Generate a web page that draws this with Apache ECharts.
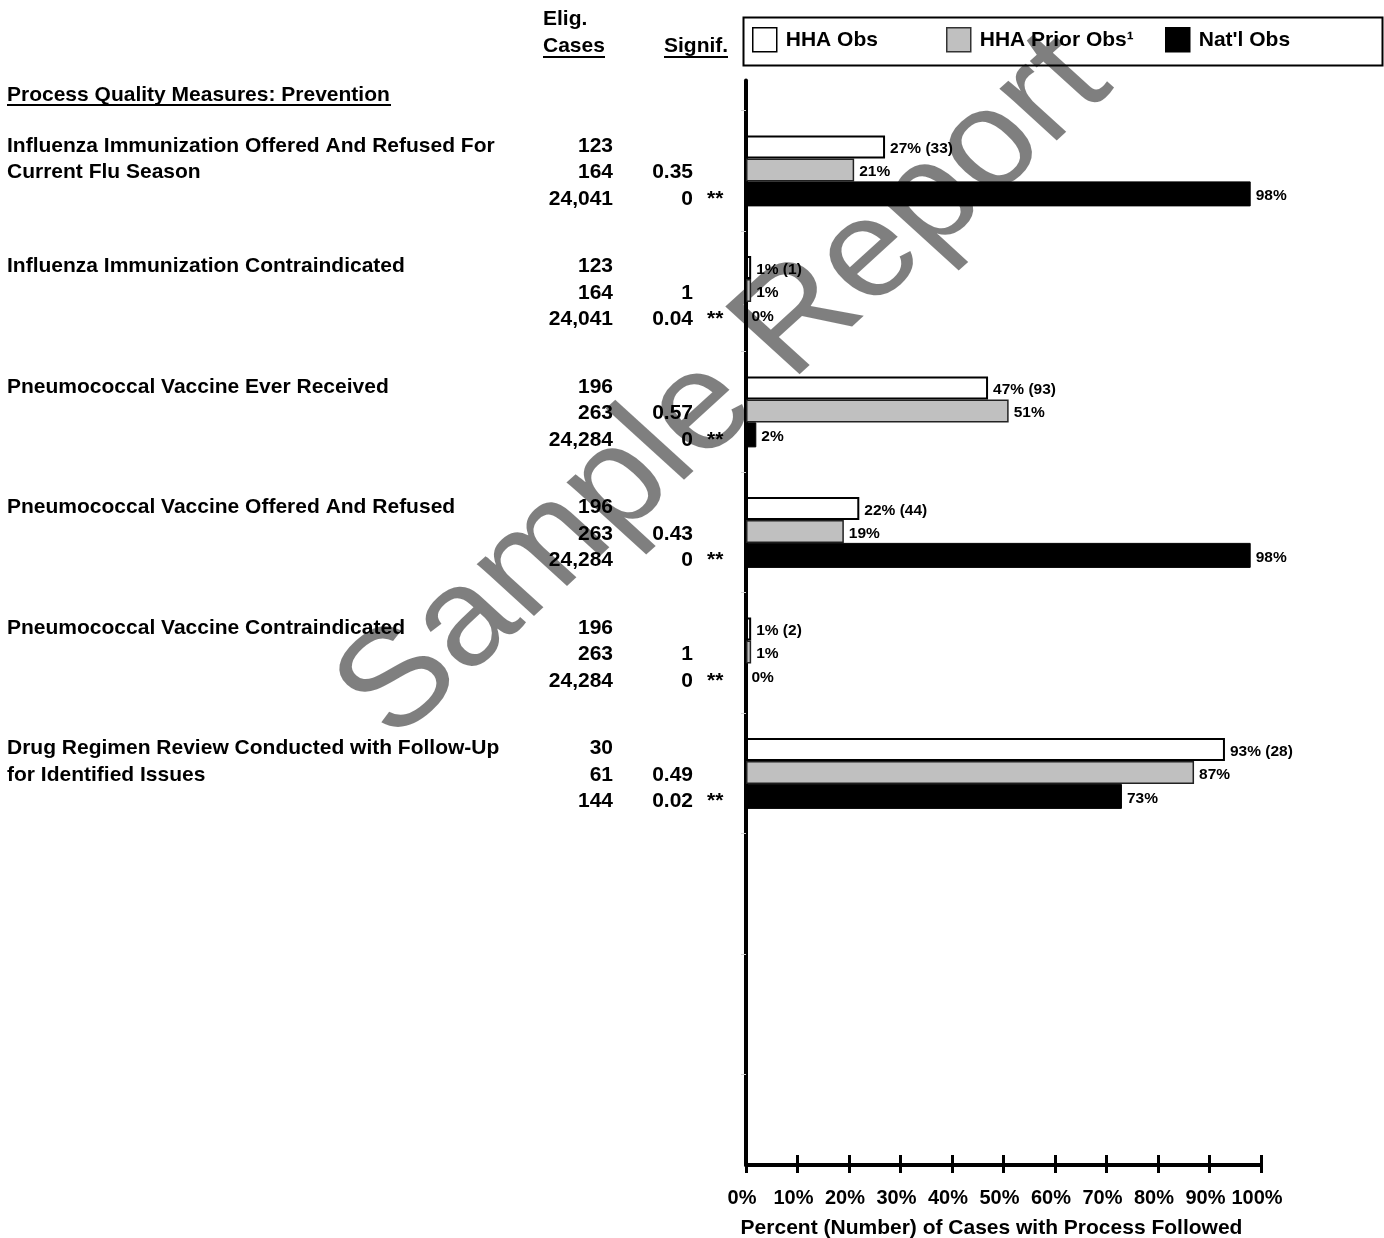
<!DOCTYPE html>
<html>
<head>
<meta charset="utf-8">
<script src="https://cdn.jsdelivr.net/npm/echarts@6/dist/echarts.min.js"></script>
<style>
html,body{margin:0;padding:0;background:#fff;}
#chart{width:1384px;height:1238px;}
</style>
</head>
<body>
<div id="chart"></div>
<script>
// ---- data ----
const measures = [
  'Influenza Immunization Offered And Refused For\nCurrent Flu Season',
  'Influenza Immunization Contraindicated',
  'Pneumococcal Vaccine Ever Received',
  'Pneumococcal Vaccine Offered And Refused',
  'Pneumococcal Vaccine Contraindicated',
  'Drug Regimen Review Conducted with Follow-Up\nfor Identified Issues'
];
const eligHHA   = ['123', '123', '196', '196', '196', '30'];
const eligPrior = ['164', '164', '263', '263', '263', '61'];
const eligNat   = ['24,041', '24,041', '24,284', '24,284', '24,284', '144'];
const signifPrior = ['0.35', '1', '0.57', '0.43', '1', '0.49'];
const signifNat   = ['0', '0.04', '0', '0', '0', '0.02'];
const flagNat     = ['**', '**', '**', '**', '**', '**'];
const hhaObs   = [27, 1, 47, 22, 1, 93];
const hhaObsN  = [33, 1, 93, 44, 2, 28];
const hhaPrior = [21, 1, 51, 19, 1, 87];
const natObs   = [98, 0, 2, 98, 0, 73];
const xTicks = [0, 100, 10];
const seriesNames = ['HHA Obs', 'HHA Prior Obs\u00B9', "Nat'l Obs"];

// ---- build slot layout (18 category slots, measures on odd slots) ----
const SLOTS = 18;
const slots = Array.from({length: SLOTS}, (_, i) => 's' + i);
function gi(i) { return (i % 2 === 1 && (i - 1) / 2 < measures.length) ? (i - 1) / 2 : -1; }
function toSlots(arr) { return slots.map((_, i) => gi(i) >= 0 ? arr[gi(i)] : '-'); }
function threeLines(parts) {
  const out = parts.slice();
  while (out.length < 3) out.push(' ');
  return '{a| }\n' + out.map(s => '{n|' + ((s === '' || s == null) ? ' ' : s) + '}').join('\n');
}

const FONT = '"Liberation Sans", Arial, sans-serif';
function textAxis(offset, align, fmt) {
  return {
    type: 'category', data: slots, inverse: true, gridIndex: 0,
    position: 'left', offset: offset,
    axisLine: {show: false}, axisTick: {show: false}, splitLine: {show: false},
    axisLabel: {
      margin: 0, interval: 0, align: align, color: '#000',
      rich: {
        a: {fontSize: 2, lineHeight: 3, align: align},
        n: {fontFamily: FONT, fontSize: 21, fontWeight: 'bold', color: '#000', lineHeight: 26.5, align: align}
      },
      formatter: (v, i) => { const g = gi(i); return g >= 0 ? fmt(g) : ''; }
    }
  };
}

const chart = echarts.init(document.getElementById('chart'), null, {renderer: 'canvas'});
const labelBase = {show: true, position: 'right', distance: 5, offset: [0, 2],
  color: '#000', fontFamily: FONT, fontSize: 15.5, fontWeight: 'bold'};

const legendCommon = {
  orient: 'horizontal', top: 27, padding: 0, icon: 'rect', itemWidth: 24, itemHeight: 24,
  selectedMode: false,
  textStyle: {fontFamily: FONT, fontSize: 21, fontWeight: 'bold', color: '#000', padding: [0, 0, 0, 4]}
};

const option = {
  animation: false,
  textStyle: {fontFamily: FONT},
  grid: {left: 746, right: 123, top: 80.5, bottom: 73, containLabel: false, outerBoundsMode: 'none'},
  legend: [
    Object.assign({}, legendCommon, {left: 752, data: [{name: seriesNames[0], itemStyle: {color: '#fff', borderColor: '#000', borderWidth: 1.5}}]}),
    Object.assign({}, legendCommon, {left: 946, data: [{name: seriesNames[1], itemStyle: {color: '#c0c0c0', borderColor: '#333', borderWidth: 1.5}}]}),
    Object.assign({}, legendCommon, {left: 1165, data: [{name: seriesNames[2], itemStyle: {color: '#000', borderColor: '#000', borderWidth: 1.5}}]})
  ],
  xAxis: [
    {
      type: 'value', min: xTicks[0], max: xTicks[1], interval: xTicks[2], position: 'bottom',
      axisLine: {show: true, lineStyle: {color: '#000', width: 4}},
      axisTick: {show: true, inside: true, length: 10, lineStyle: {color: '#000', width: 3}},
      axisLabel: {formatter: '{value}%', fontFamily: FONT, fontSize: 20, fontWeight: 'bold', color: '#000', margin: 23, padding: [0, 8, 0, 0]},
      splitLine: {show: false},
      name: 'Percent (Number) of Cases with Process Followed',
      nameLocation: 'middle', nameGap: 53,
      nameTextStyle: {fontFamily: FONT, fontSize: 21, fontWeight: 'bold', color: '#000', padding: [0, 24, 0, 0]}
    },
    {
      type: 'value', min: xTicks[0], max: xTicks[1], interval: xTicks[2], position: 'bottom',
      axisLine: {show: false},
      axisTick: {show: true, inside: false, length: 8, lineStyle: {color: '#000', width: 3}},
      axisLabel: {show: false}, splitLine: {show: false}
    }
  ],
  yAxis: [
    {
      type: 'category', data: slots, inverse: true, position: 'left',
      axisLine: {show: true, lineStyle: {color: '#000', width: 4}},
      axisTick: {show: true, alignWithLabel: true, length: 5, interval: (i) => i % 2 === 0,
        lineStyle: {color: '#d0d0d0', width: 1}},
      axisLabel: {show: false}, splitLine: {show: false}
    },
    textAxis(739, 'left', g => threeLines(measures[g].split('\n'))),
    textAxis(133, 'right', g => threeLines([eligHHA[g], eligPrior[g], eligNat[g]])),
    textAxis(53, 'right', g => threeLines(['', signifPrior[g], signifNat[g]])),
    textAxis(39, 'left', g => threeLines(['', '', flagNat[g]]))
  ],
  series: [
    {
      name: seriesNames[0], type: 'bar', xAxisIndex: 0, yAxisIndex: 0,
      data: toSlots(hhaObs), barWidth: 23, barGap: '0%',
      itemStyle: {color: '#ffffff', borderColor: '#000', borderWidth: 2},
      label: Object.assign({}, labelBase, {formatter: p => p.value + '% (' + hhaObsN[gi(p.dataIndex)] + ')'})
    },
    {
      name: seriesNames[1], type: 'bar', xAxisIndex: 0, yAxisIndex: 0,
      data: toSlots(hhaPrior), barWidth: 23, barGap: '0%',
      itemStyle: {color: '#c0c0c0', borderColor: '#222', borderWidth: 1.5},
      label: Object.assign({}, labelBase, {formatter: p => p.value + '%'})
    },
    {
      name: seriesNames[2], type: 'bar', xAxisIndex: 0, yAxisIndex: 0,
      data: toSlots(natObs), barWidth: 25, barGap: '0%',
      itemStyle: {color: '#000', borderColor: '#000', borderWidth: 1},
      label: Object.assign({}, labelBase, {formatter: p => p.value + '%'})
    }
  ],
  graphic: [
    {type: 'rect', left: 741, top: 15, shape: {width: 639, height: 48}, style: {fill: 'none', stroke: '#000', lineWidth: 2}, z: 1},
    {type: 'text', x: 543, y: 19, style: {text: 'Elig.', fontFamily: FONT, fontSize: 21, fontWeight: 'bold', fill: '#000', verticalAlign: 'middle'}},
    {type: 'text', x: 543, y: 46, style: {text: 'Cases', fontFamily: FONT, fontSize: 21, fontWeight: 'bold', fill: '#000', verticalAlign: 'middle'}},
    {type: 'line', shape: {x1: 543, y1: 57, x2: 605, y2: 57}, style: {stroke: '#000', lineWidth: 2}},
    {type: 'text', x: 664, y: 46, style: {text: 'Signif.', fontFamily: FONT, fontSize: 21, fontWeight: 'bold', fill: '#000', verticalAlign: 'middle'}},
    {type: 'line', shape: {x1: 664, y1: 57, x2: 728, y2: 57}, style: {stroke: '#000', lineWidth: 2}},
    {type: 'text', x: 7, y: 95, style: {text: 'Process Quality Measures: Prevention', fontFamily: FONT, fontSize: 21, fontWeight: 'bold', fill: '#000', verticalAlign: 'middle'}},
    {type: 'line', shape: {x1: 7, y1: 105, x2: 391, y2: 105}, style: {stroke: '#000', lineWidth: 2}},
    {type: 'group', x: 725, y: 388, scaleX: 1.1, z: 100, silent: true, children: [
      {type: 'text', rotation: Math.PI / 4, style: {text: 'Sample Report', fontFamily: FONT, fontSize: 139, fontWeight: 'normal', fill: 'rgba(0,0,0,0.5)', align: 'center', verticalAlign: 'middle'}}
    ]}
  ]
};
chart.setOption(option);
</script>
</body>
</html>
